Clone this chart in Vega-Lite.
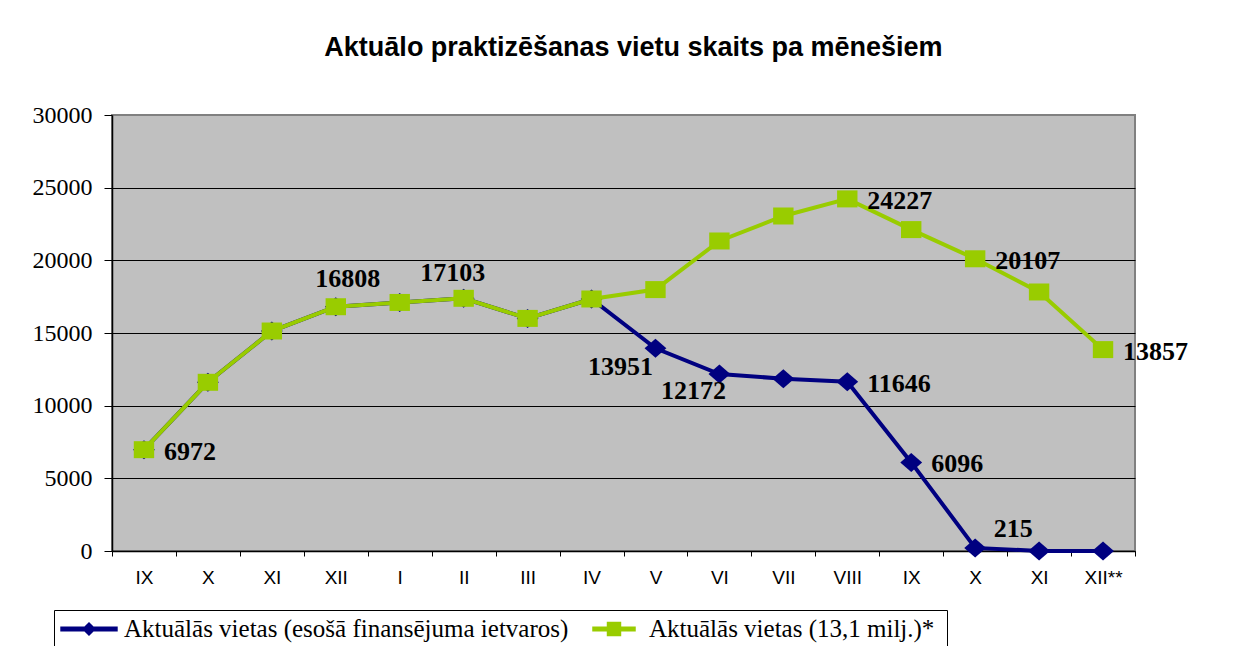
{
  "$schema": "https://vega.github.io/schema/vega-lite/v6.json",
  "width": 1023,
  "height": 436,
  "autosize": {"type": "none"},
  "padding": {"left": 112, "top": 115, "right": 107, "bottom": 95},
  "background": "white",
  "title": {
    "text": "Aktuālo praktizēšanas vietu skaits pa mēnešiem",
    "font": "Liberation Sans",
    "fontSize": 27,
    "fontWeight": "bold",
    "color": "black",
    "anchor": "middle",
    "dx": 10,
    "offset": 41
  },
  "config": {
    "view": {"fill": "#C0C0C0", "stroke": "#808080", "strokeWidth": 2},
    "axis": {"domainColor": "black", "tickColor": "black", "labelColor": "black", "title": null}
  },
  "data": {
    "values": [
      {"m": "IX_1", "s": "Aktuālās vietas (esošā finansējuma ietvaros)", "v": 6972},
      {"m": "X_1", "s": "Aktuālās vietas (esošā finansējuma ietvaros)", "v": 11608},
      {"m": "XI_1", "s": "Aktuālās vietas (esošā finansējuma ietvaros)", "v": 15137},
      {"m": "XII", "s": "Aktuālās vietas (esošā finansējuma ietvaros)", "v": 16808},
      {"m": "I", "s": "Aktuālās vietas (esošā finansējuma ietvaros)", "v": 17103},
      {"m": "II", "s": "Aktuālās vietas (esošā finansējuma ietvaros)", "v": 17388},
      {"m": "III", "s": "Aktuālās vietas (esošā finansējuma ietvaros)", "v": 16005},
      {"m": "IV", "s": "Aktuālās vietas (esošā finansējuma ietvaros)", "v": 17340},
      {"m": "V", "s": "Aktuālās vietas (esošā finansējuma ietvaros)", "v": 13951},
      {"m": "VI", "s": "Aktuālās vietas (esošā finansējuma ietvaros)", "v": 12172},
      {"m": "VII", "s": "Aktuālās vietas (esošā finansējuma ietvaros)", "v": 11860},
      {"m": "VIII", "s": "Aktuālās vietas (esošā finansējuma ietvaros)", "v": 11646},
      {"m": "IX_2", "s": "Aktuālās vietas (esošā finansējuma ietvaros)", "v": 6096},
      {"m": "X_2", "s": "Aktuālās vietas (esošā finansējuma ietvaros)", "v": 215},
      {"m": "XI_2", "s": "Aktuālās vietas (esošā finansējuma ietvaros)", "v": 0},
      {"m": "XII**", "s": "Aktuālās vietas (esošā finansējuma ietvaros)", "v": 0},
      {"m": "IX_1", "s": "Aktuālās vietas  (13,1 milj.)*", "v": 6972},
      {"m": "X_1", "s": "Aktuālās vietas  (13,1 milj.)*", "v": 11608},
      {"m": "XI_1", "s": "Aktuālās vietas  (13,1 milj.)*", "v": 15137},
      {"m": "XII", "s": "Aktuālās vietas  (13,1 milj.)*", "v": 16808},
      {"m": "I", "s": "Aktuālās vietas  (13,1 milj.)*", "v": 17103},
      {"m": "II", "s": "Aktuālās vietas  (13,1 milj.)*", "v": 17388},
      {"m": "III", "s": "Aktuālās vietas  (13,1 milj.)*", "v": 16005},
      {"m": "IV", "s": "Aktuālās vietas  (13,1 milj.)*", "v": 17340},
      {"m": "V", "s": "Aktuālās vietas  (13,1 milj.)*", "v": 17987},
      {"m": "VI", "s": "Aktuālās vietas  (13,1 milj.)*", "v": 21331},
      {"m": "VII", "s": "Aktuālās vietas  (13,1 milj.)*", "v": 23051},
      {"m": "VIII", "s": "Aktuālās vietas  (13,1 milj.)*", "v": 24227},
      {"m": "IX_2", "s": "Aktuālās vietas  (13,1 milj.)*", "v": 22115},
      {"m": "X_2", "s": "Aktuālās vietas  (13,1 milj.)*", "v": 20107},
      {"m": "XI_2", "s": "Aktuālās vietas  (13,1 milj.)*", "v": 17822},
      {"m": "XII**", "s": "Aktuālās vietas  (13,1 milj.)*", "v": 13857}
    ]
  },
  "encoding": {
    "x": {
      "field": "m",
      "type": "ordinal",
      "bandPosition": 0.5,
      "scale": {
        "type": "band",
        "domain": ["IX_1", "X_1", "XI_1", "XII", "I", "II", "III", "IV", "V", "VI", "VII", "VIII", "IX_2", "X_2", "XI_2", "XII**"],
        "paddingInner": 0,
        "paddingOuter": 0
      },
      "axis": {
        "labelExpr": "isString(datum.value) ? split(datum.value, '_')[0] : ''",
        "labelAngle": 0,
        "labelFont": "Liberation Sans",
        "labelFontSize": 19,
        "labelPadding": 12,
        "tickSize": 5,
        "tickBand": "extent",
        "domainWidth": 1.5,
        "grid": false
      }
    },
    "y": {
      "field": "v",
      "type": "quantitative",
      "scale": {"domain": [0, 30000], "nice": false},
      "axis": {
        "values": [0, 5000, 10000, 15000, 20000, 25000, 30000],
        "format": "d",
        "labelFont": "Liberation Serif",
        "labelFontSize": 24,
        "labelPadding": 12,
        "tickSize": 8,
        "domainWidth": 1.5,
        "grid": true,
        "gridColor": {"condition": {"test": "datum.value == 30000", "value": "#808080"}, "value": "black"},
        "gridOpacity": 1,
        "gridWidth": 1
      }
    }
  },
  "layer": [
    {
      "transform": [{"filter": "datum.s === 'Aktuālās vietas (esošā finansējuma ietvaros)'"}],
      "mark": {"type": "line", "strokeWidth": 4},
      "encoding": {
        "color": {
          "field": "s",
          "type": "nominal",
          "scale": {
            "domain": ["Aktuālās vietas (esošā finansējuma ietvaros)", "Aktuālās vietas  (13,1 milj.)*"],
            "range": ["#000080", "#99CC00"]
          },
          "legend": {
            "title": null,
            "orient": "none",
            "legendX": -58,
            "legendY": 495,
            "direction": "horizontal",
            "padding": 6,
            "strokeColor": "black",
            "fillColor": "white",
            "labelFont": "Liberation Serif",
            "labelFontSize": 25,
            "labelColor": "black",
            "labelLimit": 700,
            "labelOffset": 22,
            "columnPadding": 16,
            "symbolSize": 576,
            "symbolOffset": 16,
            "encode": {
              "symbols": {
                "update": {
                  "shape": {"signal": "datum.value === 'Aktuālās vietas (esošā finansējuma ietvaros)' ? 'M-2.33,-0.146L-0.354,-0.146L0,-0.5L0.354,-0.146L2.33,-0.146L2.33,0.146L0.354,0.146L0,0.5L-0.354,0.146L-2.33,0.146Z' : 'M-1.75,-0.146L-0.54,-0.146L-0.54,-0.54L0.54,-0.54L0.54,-0.146L1.75,-0.146L1.75,0.146L0.54,0.146L0.54,0.54L-0.54,0.54L-0.54,0.146L-1.75,0.146Z'"},
                  "fill": {"signal": "datum.value === 'Aktuālās vietas (esošā finansējuma ietvaros)' ? '#000080' : '#99CC00'"},
                  "stroke": {"value": "transparent"},
                  "size": {"value": 576},
                  "opacity": {"value": 1},
                  "fillOpacity": {"value": 1}
                }
              }
            }
          }
        }
      }
    },
    {
      "transform": [{"filter": "datum.s === 'Aktuālās vietas (esošā finansējuma ietvaros)'"}],
      "mark": {"type": "point", "filled": true, "opacity": 1, "size": 361, "shape": "M-1.15,0L0,-1L1.15,0L0,1Z"},
      "encoding": {"color": {"field": "s", "type": "nominal"}}
    },
    {
      "transform": [{"filter": "datum.s === 'Aktuālās vietas  (13,1 milj.)*'"}],
      "mark": {"type": "line", "strokeWidth": 4},
      "encoding": {"color": {"field": "s", "type": "nominal"}}
    },
    {
      "transform": [{"filter": "datum.s === 'Aktuālās vietas  (13,1 milj.)*'"}],
      "mark": {"type": "point", "filled": true, "opacity": 1, "size": 289, "shape": "M-1.2,-1L1.2,-1L1.2,1L-1.2,1Z"},
      "encoding": {"color": {"field": "s", "type": "nominal"}}
    },
    {
      "transform": [{"filter": "(datum.s === 'Aktuālās vietas (esošā finansējuma ietvaros)' && indexof(['IX_1','VIII','IX_2'], datum.m) >= 0) || (datum.s === 'Aktuālās vietas  (13,1 milj.)*' && indexof(['VIII','X_2','XII**'], datum.m) >= 0)"}],
      "mark": {"type": "text", "align": "left", "baseline": "middle", "dx": 20, "dy": 2, "font": "Liberation Serif", "fontWeight": "bold", "fontSize": 26, "color": "black"},
      "encoding": {"text": {"field": "v", "type": "quantitative", "format": "d"}}
    },
    {
      "transform": [{"filter": "datum.s === 'Aktuālās vietas (esošā finansējuma ietvaros)' && datum.m === 'XII'"}],
      "mark": {"type": "text", "align": "center", "baseline": "middle", "dx": 12, "dy": -28, "font": "Liberation Serif", "fontWeight": "bold", "fontSize": 26, "color": "black"},
      "encoding": {"text": {"field": "v", "type": "quantitative", "format": "d"}}
    },
    {
      "transform": [{"filter": "datum.s === 'Aktuālās vietas (esošā finansējuma ietvaros)' && datum.m === 'I'"}],
      "mark": {"type": "text", "align": "center", "baseline": "middle", "dx": 53, "dy": -29, "font": "Liberation Serif", "fontWeight": "bold", "fontSize": 26, "color": "black"},
      "encoding": {"text": {"field": "v", "type": "quantitative", "format": "d"}}
    },
    {
      "transform": [{"filter": "datum.s === 'Aktuālās vietas (esošā finansējuma ietvaros)' && datum.m === 'V'"}],
      "mark": {"type": "text", "align": "center", "baseline": "middle", "dx": -35, "dy": 19, "font": "Liberation Serif", "fontWeight": "bold", "fontSize": 26, "color": "black"},
      "encoding": {"text": {"field": "v", "type": "quantitative", "format": "d"}}
    },
    {
      "transform": [{"filter": "datum.s === 'Aktuālās vietas (esošā finansējuma ietvaros)' && datum.m === 'VI'"}],
      "mark": {"type": "text", "align": "center", "baseline": "middle", "dx": -26, "dy": 17, "font": "Liberation Serif", "fontWeight": "bold", "fontSize": 26, "color": "black"},
      "encoding": {"text": {"field": "v", "type": "quantitative", "format": "d"}}
    },
    {
      "transform": [{"filter": "datum.s === 'Aktuālās vietas (esošā finansējuma ietvaros)' && datum.m === 'X_2'"}],
      "mark": {"type": "text", "align": "center", "baseline": "middle", "dx": 38, "dy": -19, "font": "Liberation Serif", "fontWeight": "bold", "fontSize": 26, "color": "black"},
      "encoding": {"text": {"field": "v", "type": "quantitative", "format": "d"}}
    }
  ]
}
